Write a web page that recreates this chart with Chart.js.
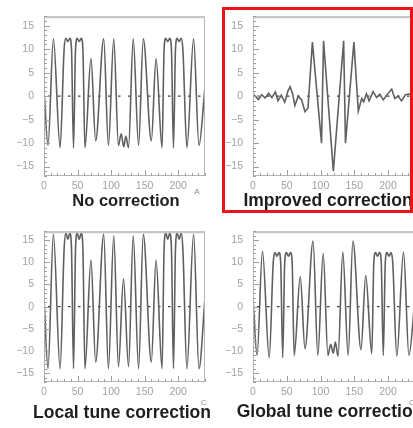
<!DOCTYPE html>
<html>
<head>
<meta charset="utf-8">
<script src="https://cdn.jsdelivr.net/npm/chart.js@4.4.1/dist/chart.umd.min.js"></script>
<style>
  html, body { margin: 0; padding: 0; background: #fff; overflow: hidden; }
  #wrap { position: relative; width: 413px; height: 428px; overflow: hidden; background: #fff; }
  #wrap canvas { position: absolute; }
  #sel { position: absolute; left: 222px; top: 7px; width: 191px; height: 206px;
         box-sizing: border-box; border: 3px solid #e8141b; pointer-events: none; }
</style>
</head>
<body>
<div id="wrap">
  <canvas id="c1" width="210" height="215" style="left:0;top:0"></canvas>
  <canvas id="c2" width="240" height="215" style="left:207px;top:0"></canvas>
  <canvas id="c3" width="210" height="213" style="left:0;top:215px"></canvas>
  <canvas id="c4" width="240" height="213" style="left:207px;top:215px"></canvas>
  <div id="sel"></div>
</div>
<script>
  // axis ticks shared by all four panels
  const xTicks = [0, 50, 100, 150, 200];
  const yTicks = [-15, -10, -5, 0, 5, 10, 15];

  // no correction
  const noCorrX = [0, 6, 14, 24, 30, 32.5, 35.5, 38.5, 41, 44, 47, 49.5, 52.5, 55.5, 58, 61, 70, 77, 89, 96, 104, 111, 115, 119, 122, 126, 133, 141, 148, 160, 167, 176, 179, 181.5, 184.5, 187.5, 190, 193, 196, 198.5, 201.5, 204.5, 207, 213, 223, 231, 240];
  const noCorrY = [1.5, -10.5, 12.2, -11, 10, 12.3, 11.6, 12.3, 10, -11, 10, 12.3, 11.6, 12.3, 10, -11, 8, -9.5, 12.2, -10.5, 12.2, -10.5, -8, -10.8, -8.5, -11, 12.2, -10.5, 12.2, -9.5, 8, -11, 10, 12.3, 11.6, 12.3, 10, -11, 10, 12.3, 11.6, 12.3, 10, -11, 12.2, -10.5, 2];

  // improved correction
  const improvedX = [0, 3, 8, 13, 18, 23, 28, 33, 37, 42, 47, 52, 55, 59, 62, 67, 72, 77, 81.5, 88, 101.5, 104.5, 119, 134.3, 137, 149.5, 156, 161, 164, 168, 172, 178, 183, 188, 193, 198, 205.5, 210, 215, 220, 226, 232.6, 240];
  const improvedY = [0.5, 0, -0.7, 0.3, -0.4, 0.6, -0.3, 0.9, -1, 0.2, -1.3, 1.2, 2, 0.3, -2, 0, -0.8, -3.3, -2.5, 11.5, -10, 11.8, -16, 11.8, -10, 11.5, -3.2, -0.5, -1.2, 0.5, -1, 1, -0.3, 0.4, -0.8, 0.2, 1.5, -0.5, 0, -1, 0.3, 0.5, 0];

  // local tune correction
  const localX = [0, 6, 14, 24, 30, 32.5, 35.5, 38.5, 41, 44, 47, 49.5, 52.5, 55.5, 58, 61, 70, 77, 89, 96, 104, 111, 118.5, 126, 133, 141, 148, 160, 167, 176, 179, 181.5, 184.5, 187.5, 190, 193, 196, 198.5, 201.5, 204.5, 207, 213, 223, 231, 240];
  const localY = [2, -14, 16.3, -14, 13, 16.6, 15.2, 16.6, 13, -14, 13, 16.6, 15.2, 16.6, 13, -14, 10.5, -12.5, 16.3, -14, 16, -13.5, 6.3, -13.5, 16, -14, 16.3, -12.5, 10.5, -14, 13, 16.6, 15.2, 16.6, 13, -14, 13, 16.6, 15.2, 16.6, 13, -14, 16.3, -14, 2];

  // global tune correction
  const globalX = [0, 6, 14, 24, 30, 32.5, 35.5, 38.5, 41, 44, 47, 49.5, 52.5, 55.5, 58, 61, 70, 77, 89, 96, 104, 111, 115, 119, 122, 126, 133, 141, 148, 160, 167, 176, 179, 181.5, 184.5, 187.5, 190, 193, 196, 198.5, 201.5, 204.5, 207, 213, 223, 231, 240];
  const globalY = [2, -11, 12.5, -11.5, 10, 12.2, 11.4, 12.2, 10, -11.5, 10, 12.2, 11.4, 12.2, 10, -11, 6.8, -9.5, 14.8, -11, 12, -11, -8.5, -10.5, -8, -11.2, 12.3, -11, 14.8, -9.7, 7, -10.6, 10, 12.2, 11.4, 12.2, 10, -11, 10, 12.2, 11.4, 12.2, 10, -11.2, 12.3, -11, 2];

  const fmt = v => (v < 0 ? '\u2212' + Math.abs(v) : String(v));
  const tickFont = { size: 10.5, family: '"Liberation Sans", Arial, sans-serif' };

  // frame, inward ticks, dashed zero line and the caption under each panel
  const panelDecor = {
    id: 'panelDecor',
    beforeDatasetsDraw(chart) {
      const { ctx, chartArea: a, scales } = chart;
      const y0 = scales.y.getPixelForValue(0);
      ctx.save();
      ctx.strokeStyle = '#3c3c3c';
      ctx.lineWidth = 1.4;
      ctx.setLineDash([2.5, 7.5]);
      ctx.beginPath();
      ctx.moveTo(a.left + 4, y0);
      ctx.lineTo(a.right, y0);
      ctx.stroke();
      ctx.restore();
    },
    afterDatasetsDraw(chart, args, opts) {
      const { ctx, chartArea: a, scales } = chart;
      const xs = scales.x, ys = scales.y;
      ctx.save();
      ctx.strokeStyle = '#b4b4b4';
      ctx.lineWidth = 1;
      ctx.strokeRect(a.left + 0.5, a.top + 0.5, a.right - a.left - 1, a.bottom - a.top - 1);
      ctx.strokeStyle = '#c6c6c6';
      ctx.lineWidth = 2;
      ctx.beginPath();
      ctx.moveTo(a.left, a.top + 1);
      ctx.lineTo(a.right, a.top + 1);
      ctx.stroke();

      ctx.strokeStyle = '#a0a0a0';
      ctx.lineWidth = 1;
      ctx.beginPath();
      for (let v = -17; v <= 17; v++) {
        const p = Math.round(ys.getPixelForValue(v)) + 0.5;
        const len = v % 5 === 0 ? 6 : 3;
        ctx.moveTo(a.left, p);
        ctx.lineTo(a.left + len, p);
      }
      for (let v = 0; v <= 240; v += 10) {
        const p = Math.round(xs.getPixelForValue(v)) + 0.5;
        const len = v % 50 === 0 ? 6 : 3;
        ctx.moveTo(p, a.bottom);
        ctx.lineTo(p, a.bottom - len);
      }
      ctx.stroke();

      ctx.textAlign = 'center';
      ctx.textBaseline = 'middle';
      if (opts.mark) {
        // clipped axis-title letter at the right end of the x axis
        ctx.fillStyle = '#8c8c8c';
        ctx.font = '8px "Liberation Sans", Arial, sans-serif';
        ctx.fillText(opts.mark, opts.markX, opts.markY);
      }
      ctx.fillStyle = '#1e1e1e';
      ctx.font = 'bold ' + opts.size + 'px "Liberation Sans", Arial, sans-serif';
      ctx.fillText(opts.title, opts.titleX, opts.titleY);
      ctx.restore();
    }
  };
  Chart.register(panelDecor);

  function makePanel(id, xsArr, ysArr, box, caption, smooth) {
    const canvas = document.getElementById(id);
    const W = canvas.width, H = canvas.height;
    return new Chart(canvas.getContext('2d'), {
      type: 'line',
      data: {
        datasets: [{
          data: xsArr.map((x, i) => ({ x: x, y: ysArr[i] })),
          borderColor: '#606060',
          borderWidth: 1.6,
          pointRadius: 0,
          fill: false,
          cubicInterpolationMode: smooth ? 'monotone' : 'default',
          tension: 0
        }]
      },
      options: {
        responsive: false,
        animation: false,
        events: [],
        layout: { padding: { top: box.top, right: W - box.right, bottom: 0, left: 0 } },
        plugins: {
          legend: { display: false },
          tooltip: { enabled: false },
          panelDecor: {
            title: caption.text, titleX: caption.x, titleY: caption.y, size: caption.size,
            mark: caption.mark, markX: caption.markX, markY: caption.markY
          }
        },
        scales: {
          x: {
            type: 'linear',
            min: 0,
            max: 240,
            grid: { display: false, drawTicks: false },
            border: { display: false },
            afterFit: s => { s.height = H - box.bottom; },
            afterBuildTicks: s => { s.ticks = xTicks.map(v => ({ value: v })); },
            ticks: {
              color: '#a2a2a2',
              font: tickFont,
              padding: 4,
              maxRotation: 0,
              autoSkip: false,
              callback: v => fmt(v)
            }
          },
          y: {
            min: -17,
            max: 17,
            grid: { display: false, drawTicks: false },
            border: { display: false },
            afterFit: s => { s.width = box.left; },
            afterBuildTicks: s => { s.ticks = yTicks.map(v => ({ value: v })); },
            ticks: {
              color: '#a2a2a2',
              font: tickFont,
              padding: 10,
              autoSkip: false,
              callback: v => fmt(v)
            }
          }
        }
      }
    });
  }

  makePanel('c1', noCorrX, noCorrY, { left: 44, top: 13, right: 205, bottom: 176 },
    { text: 'No correction', x: 126, y: 201, size: 16.5, mark: 'A', markX: 197, markY: 192 }, true);
  makePanel('c2', improvedX, improvedY, { left: 46, top: 13, right: 208, bottom: 176 },
    { text: 'Improved correction', x: 121, y: 201, size: 17.5 }, false);
  makePanel('c3', localX, localY, { left: 44, top: 6, right: 205, bottom: 167 },
    { text: 'Local tune correction', x: 122, y: 198, size: 17.5, mark: 'C', markX: 204, markY: 188 }, true);
  makePanel('c4', globalX, globalY, { left: 46, top: 7, right: 208, bottom: 167 },
    { text: 'Global tune correction', x: 123, y: 197, size: 17.5, mark: 'C', markX: 205, markY: 188 }, true);
</script>
</body>
</html>
